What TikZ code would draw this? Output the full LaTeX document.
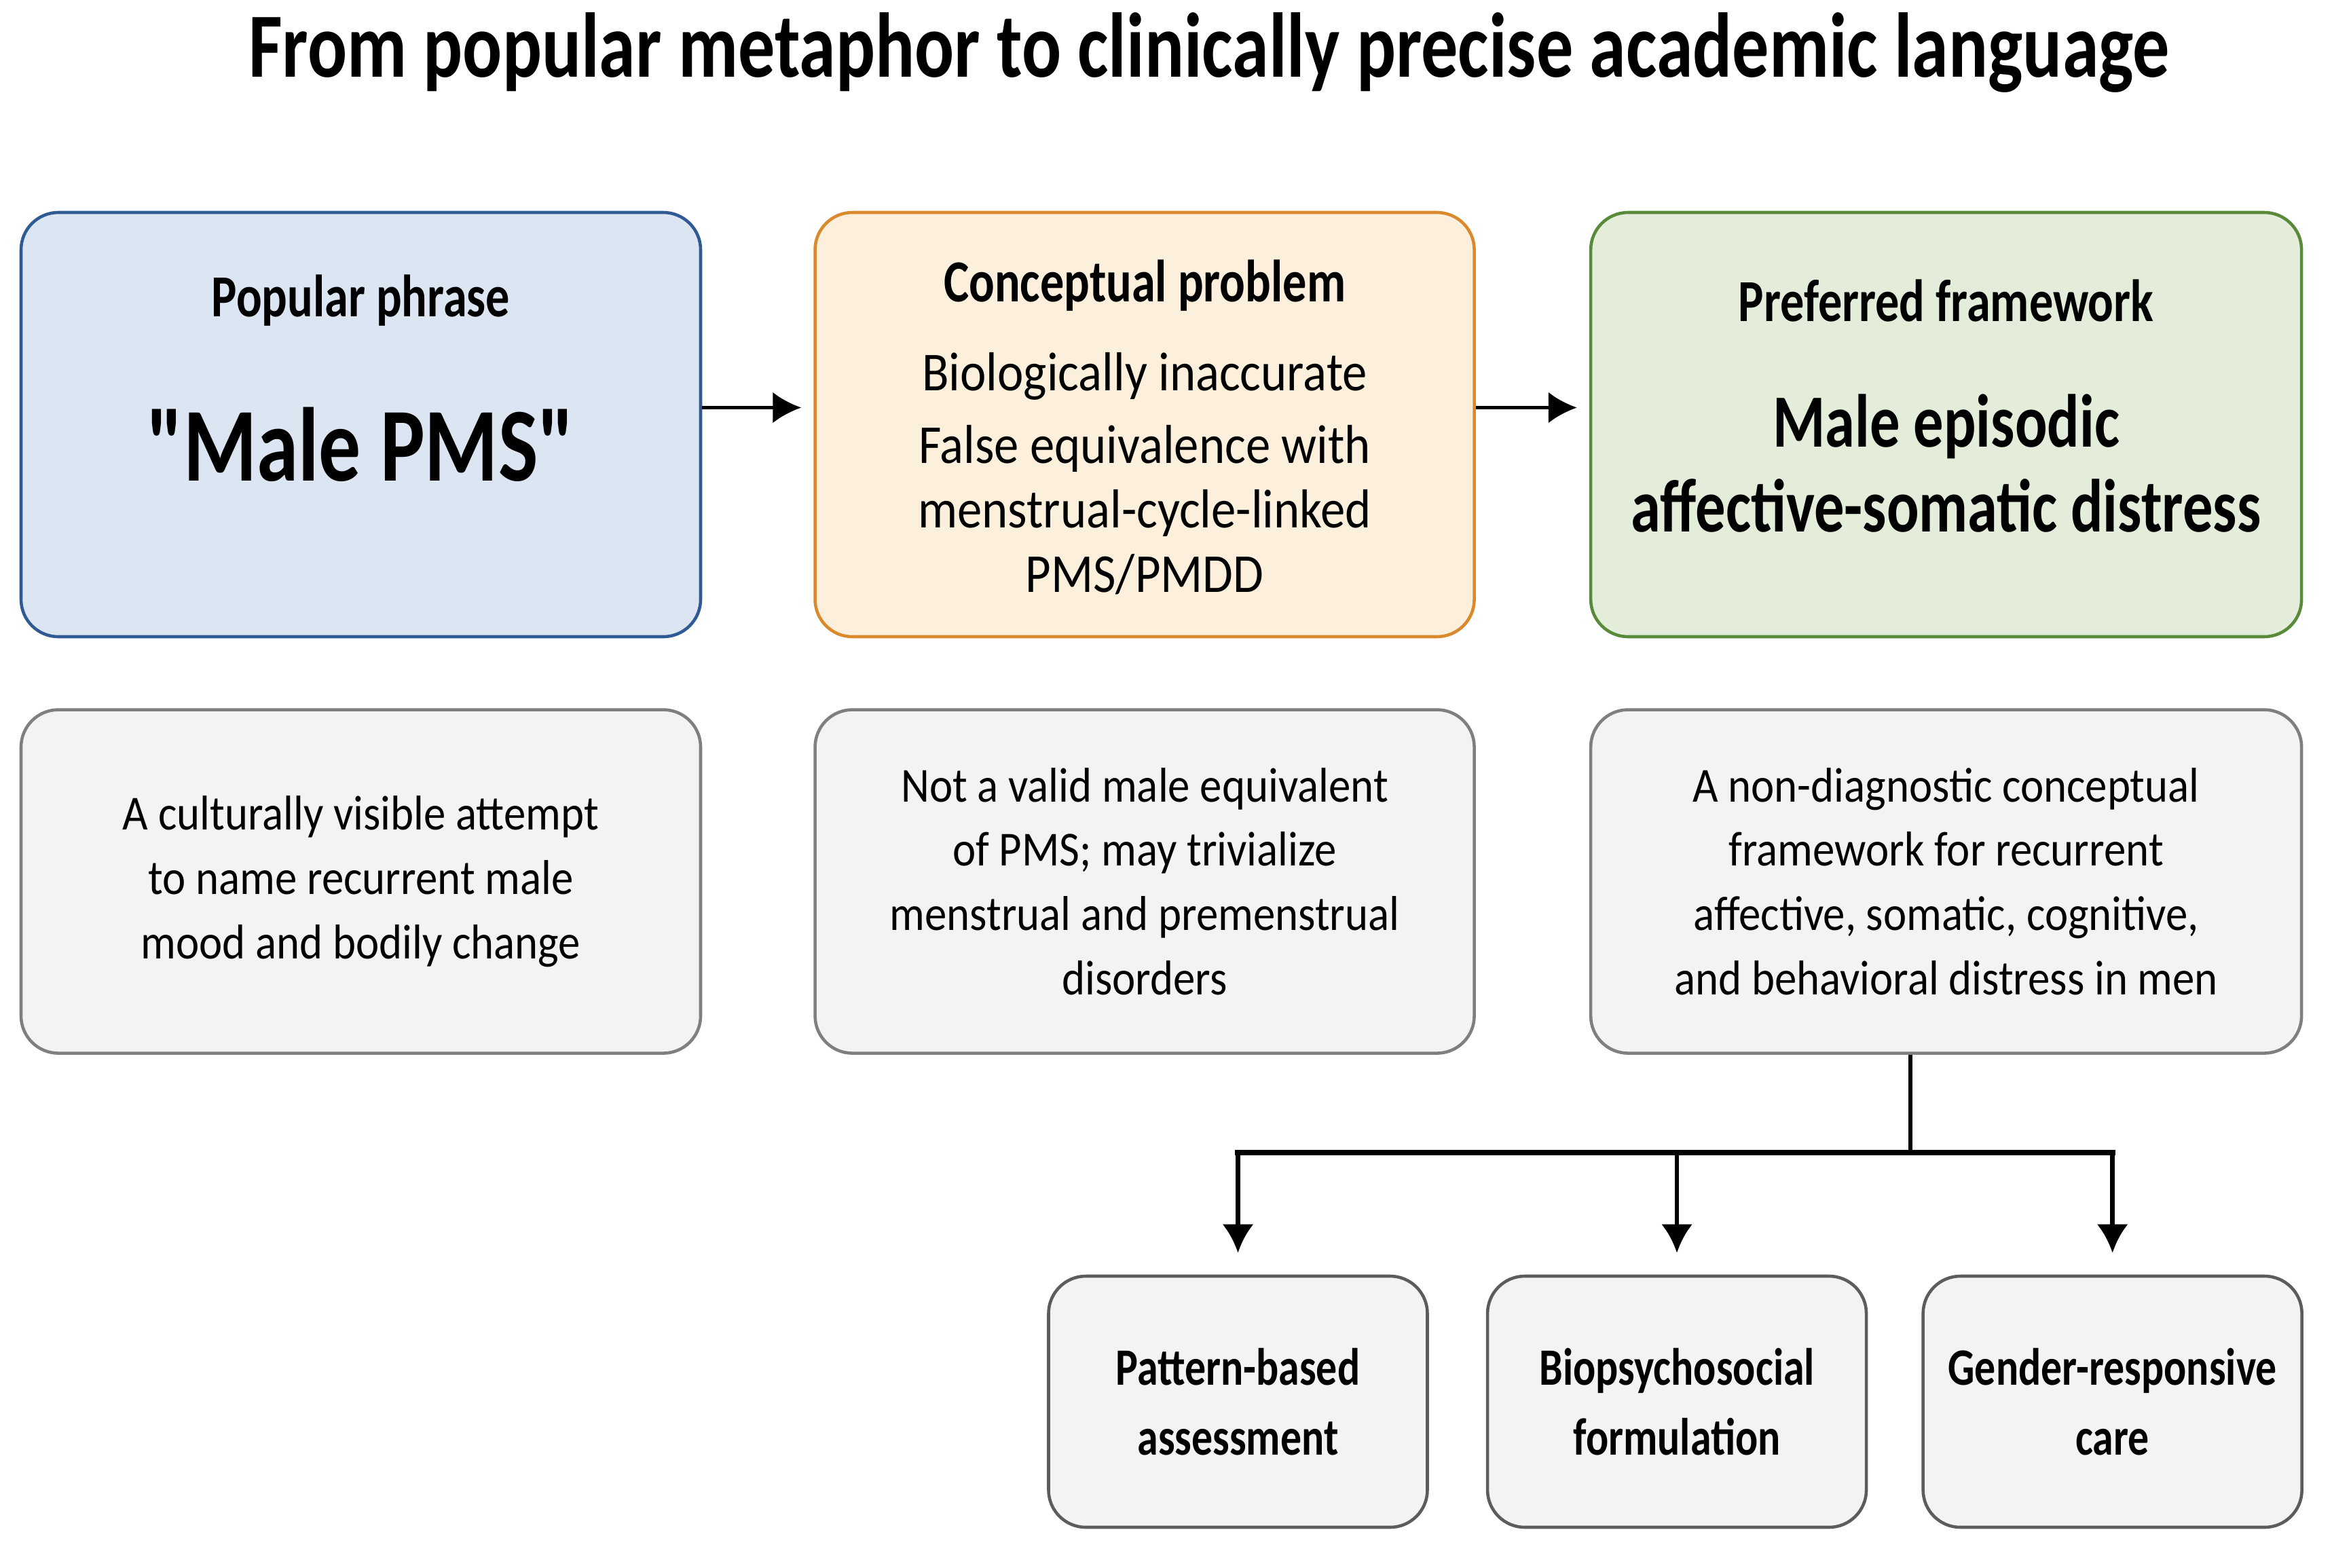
\documentclass[tikz,border=0pt]{standalone}
\usepackage{fontspec}
\setmainfont{Carlito}[FakeStretch=0.9,
                      Ligatures=TeXOff,
                      BoldFeatures={FakeStretch=0.8}]
\usetikzlibrary{shapes,
                arrows.meta,
                positioning}

\definecolor{phrasefill}{HTML}{DCE6F3}
\definecolor{phrasedraw}{HTML}{2F5A94}
\definecolor{problemfill}{HTML}{FCF0DD}
\definecolor{problemdraw}{HTML}{DA8A2C}
\definecolor{frameworkfill}{HTML}{E3EDDA}
\definecolor{frameworkdraw}{HTML}{588A3A}
\definecolor{notefill}{HTML}{F3F3F3}
\definecolor{notedraw}{HTML}{7F7F7F}
\definecolor{leafdraw}{HTML}{5C5C5C}

\tikzset{block/.style =
   {rectangle,
    draw,
    line width=1.3pt,
    rounded corners=0.55cm,
    text centered,
    align=center}}
\tikzset{topblock/.style =
   {block,
    minimum height=6.25cm}}
\tikzset{noteblock/.style =
   {block,
    fill=notefill,
    draw=notedraw,
    minimum height=5.06cm,
    font=\fontsize{20.5}{27}\selectfont}}
\tikzset{leafblock/.style =
   {block,
    fill=notefill,
    draw=leafdraw,
    minimum width=5.58cm,
    minimum height=3.7cm,
    font=\fontsize{22}{29.5}\selectfont\bfseries}}
\tikzset{heading/.style =
   {align=center,
    font=\fontsize{25}{30}\selectfont\bfseries}}
\tikzset{bodytext/.style =
   {align=center,
    font=\fontsize{23}{27}\selectfont}}
\tikzset{arrow/.style =
   {draw,
    line width=1.5pt,
    -{Latex[length=0.42cm, width=0.46cm]}}}

\begin{document}
\begin{tikzpicture}[auto]

    \useasboundingbox[fill=white] (0,0) rectangle (34.35,-23.09);

    \node [font=\fontsize{38.5}{45}\selectfont\bfseries] (title)
        at (17.81,-0.77)
        {From popular metaphor to clinically precise academic language};

    % top row
    \node [topblock,
           fill=phrasefill,
           draw=phrasedraw,
           minimum width=10.01cm] (phrase) at (5.315,-6.255) {};

    \node [topblock,
           fill=problemfill,
           draw=problemdraw,
           minimum width=9.71cm,
           right = 1.64cm of phrase] (problem) {};

    \node [topblock,
           fill=frameworkfill,
           draw=frameworkdraw,
           minimum width=10.47cm,
           right = 1.67cm of problem] (framework) {};

    \node [heading] (phraseHead) at ([yshift=-1.32cm]phrase.north)
        {Popular phrase};
    \node [font=\fontsize{44}{52}\selectfont\bfseries] (phraseName)
        at ([yshift=-3.44cm]phrase.north) {"Male PMS"};

    \node [heading] (problemHead) at ([yshift=-1.10cm]problem.north)
        {Conceptual problem};
    \node [bodytext] (problemText) at ([yshift=-3.87cm]problem.north)
        {Biologically inaccurate\\[0.12cm]
         False equivalence with\\
         menstrual-cycle-linked\\
         PMS/PMDD};

    \node [heading] (frameworkHead) at ([yshift=-1.32cm]framework.north)
        {Preferred framework};
    \node [align=center,
           font=\fontsize{31.5}{35.5}\selectfont\bfseries] (frameworkName)
        at ([yshift=-3.72cm]framework.north)
        {Male episodic\\affective-somatic distress};

    % notes under each box
    \node [noteblock,
           minimum width=10.01cm,
           below = 1.03cm of phrase] (phraseNote)
        {A culturally visible attempt\\
         to name recurrent male\\
         mood and bodily change};

    \node [noteblock,
           minimum width=9.71cm,
           below = 1.03cm of problem] (problemNote)
        {Not a valid male equivalent\\
         of PMS; may trivialize\\
         menstrual and premenstrual\\
         disorders};

    \node [noteblock,
           minimum width=10.47cm,
           below = 1.03cm of framework] (frameworkNote)
        {A non-diagnostic conceptual\\
         framework for recurrent\\
         affective, somatic, cognitive,\\
         and behavioral distress in men};

    % uses of the framework
    \node [leafblock] (assess) at (18.235,-20.65)
        {Pattern-based\\assessment};
    \node [leafblock, right = 0.84cm of assess] (formul)
        {Biopsychosocial\\formulation};
    \node [leafblock, right = 0.79cm of formul] (care)
        {Gender-responsive\\care};

    \draw [arrow, shorten >=0.18cm]
        ([yshift=0.25cm]phrase.east) -- ([yshift=0.25cm]problem.west);
    \draw [arrow, shorten >=0.18cm]
        ([yshift=0.25cm]problem.east) -- ([yshift=0.25cm]framework.west);

    \coordinate (split) at (28.14,-16.98);
    \draw [line width=1.7pt] (frameworkNote.south -| split) -- (split);
    \draw [line width=2.3pt, line cap=rect]
        (assess.north |- split) -- (care.north |- split);
    \foreach \leaf in {assess, formul, care}
        \draw [arrow, line width=1.9pt]
            (\leaf.north |- split) -- ([yshift=0.32cm]\leaf.north);

\end{tikzpicture}
\end{document}
